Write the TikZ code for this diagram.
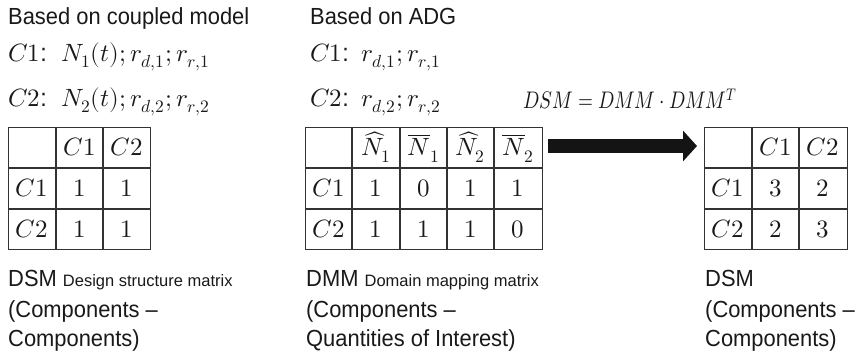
\documentclass[tikz,border=0pt]{standalone}
\usepackage{graphicx}
\usepackage{fontspec}
\usepackage{unicode-math}
\setmainfont{Liberation Sans}[FakeStretch=0.94]
\newfontfamily\notefont{Liberation Sans}
\setmathfont{Latin Modern Math}
\usetikzlibrary{arrows.meta}

\newcommand\bigfs{\fontsize{23.3}{29}\selectfont}
\newcommand\mathfs{\fontsize{25}{30}\selectfont}
\newcommand\formfs{\fontsize{24}{29}\selectfont}
\newcommand\notefs{\notefont\fontsize{16.5}{20}\selectfont}

\begin{document}
\begin{tikzpicture}[x=1pt,y=-1pt,
  txt/.style={anchor=base west, inner sep=0pt, font=\bigfs, text=black!90},
  mtxt/.style={anchor=base west, inner sep=0pt, font=\mathfs, text=black!90},
  entry/.style={anchor=base, inner sep=0pt, font=\mathfs, text=black!90},
  gridline/.style={line width=1.3pt, draw=black!80},
  tablebox/.style={gridline, anchor=north west, inner sep=0pt, minimum height=122pt},
  bigarrow/.style={line width=14pt, draw=black!92,
    -{Triangle[length=14pt,width=30pt]}}]
\useasboundingbox[fill=white] (0,0) rectangle (867,355);

% headings
\node[txt] (h1) at (8,24.5) {Based on coupled model};
\node[txt] (h2) at (310,24.5) {Based on ADG};

% component variables, coupled model
\node[mtxt] (a1) at (8,61.5) {$C1$:};
\node[mtxt] (a1v) at (61,61.5) {$N_1(t);r_{d,1};r_{r,1}$};
\node[mtxt] (a2) at (8,106.5) {$C2$:};
\node[mtxt] (a2v) at (61,106.5) {$N_2(t);r_{d,2};r_{r,2}$};

% component variables, ADG
\node[mtxt] (b1) at (310,61.5) {$C1$:};
\node[mtxt] (b1v) at (361,61.5) {$r_{d,1};r_{r,1}$};
\node[mtxt] (b2) at (310,106.5) {$C2$:};
\node[mtxt] (b2v) at (361,106.5) {$r_{d,2};r_{r,2}$};

% product formula
\node[mtxt, font=\formfs] (f) at (523,109)
  {\scalebox{0.8}[1]{$DSM = DMM\cdot DMM^{T}$}};

% ---- DSM (coupled model)
\node[tablebox, minimum width=142pt] (dsmA) at (8,127) {};
\draw[gridline] (56,127) -- (56,249);
\draw[gridline] (103,127) -- (103,249);
\draw[gridline] (8,168) -- (150,168);
\draw[gridline] (8,209) -- (150,209);
\node[entry] at (79.5,156) {$C1$};
\node[entry] at (126.5,156) {$C2$};
\node[entry] at (32,197) {$C1$};
\node[entry] at (79.5,197) {$1$};
\node[entry] at (126.5,197) {$1$};
\node[entry] at (32,237.5) {$C2$};
\node[entry] at (79.5,237.5) {$1$};
\node[entry] at (126.5,237.5) {$1$};

% ---- DMM (ADG)
\node[tablebox, minimum width=237pt] (dmm) at (305,127) {};
\foreach \x in {352,400,447,494}
  \draw[gridline] (\x,127) -- (\x,249);
\draw[gridline] (305,168) -- (542,168);
\draw[gridline] (305,209) -- (542,209);
\node[entry] at (376,156) {$\widehat{N}_1$};
\node[entry] at (423.5,156) {$\overline{N}_1$};
\node[entry] at (470.5,156) {$\widehat{N}_2$};
\node[entry] at (518,156) {$\overline{N}_2$};
\node[entry] at (328.5,197) {$C1$};
\node[entry] at (376,197) {$1$};
\node[entry] at (423.5,197) {$0$};
\node[entry] at (470.5,197) {$1$};
\node[entry] at (518,197) {$1$};
\node[entry] at (328.5,237.5) {$C2$};
\node[entry] at (376,237.5) {$1$};
\node[entry] at (423.5,237.5) {$1$};
\node[entry] at (470.5,237.5) {$1$};
\node[entry] at (518,237.5) {$0$};

% ---- resulting DSM
\node[tablebox, minimum width=143pt] (dsmB) at (704,127) {};
\draw[gridline] (752,127) -- (752,249);
\draw[gridline] (799,127) -- (799,249);
\draw[gridline] (704,168) -- (847,168);
\draw[gridline] (704,209) -- (847,209);
\node[entry] at (775.5,156) {$C1$};
\node[entry] at (823,156) {$C2$};
\node[entry] at (728,197) {$C1$};
\node[entry] at (775.5,197) {$3$};
\node[entry] at (823,197) {$2$};
\node[entry] at (728,237.5) {$C2$};
\node[entry] at (775.5,237.5) {$2$};
\node[entry] at (823,237.5) {$3$};

% arrow from DMM to DSM
\coordinate (arrS) at (548,146);
\coordinate (arrE) at (697,146);
\draw[bigarrow] (arrS) -- (arrE);

% captions
\node[txt] (capA1) at (8,287) {DSM \notefs Design structure matrix};
\node[txt] (capA2) at (8,317) {(Components –};
\node[txt] (capA3) at (8,346) {Components)};
\node[txt] (capB1) at (306,287) {DMM \notefs Domain mapping matrix};
\node[txt] (capB2) at (306,317) {(Components –};
\node[txt] (capB3) at (306,346) {Quantities of Interest)};
\node[txt] (capC1) at (705,287) {DSM};
\node[txt] (capC2) at (705,317) {(Components –};
\node[txt] (capC3) at (705,346) {Components)};
\end{tikzpicture}
\end{document}
